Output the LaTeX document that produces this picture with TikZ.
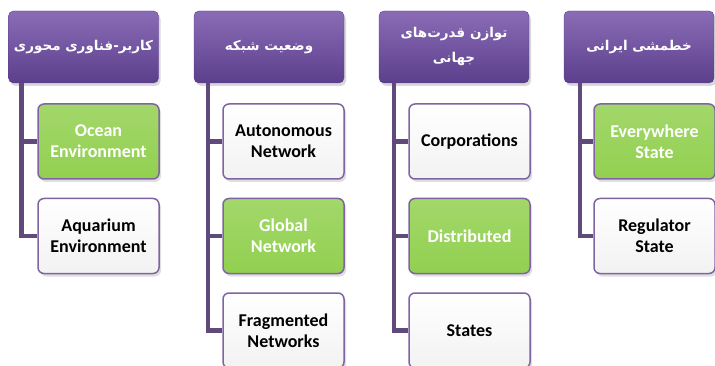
\documentclass[tikz,border=0pt]{standalone}
\usepackage{fontspec}
\setmainfont{Carlito}
\newfontfamily\arabicfont[Script=Arabic,BoldFont={DejaVu Sans Bold}]{DejaVu Sans}
\TeXXeTstate=1
\usepackage{tikz}
\usetikzlibrary{positioning,shadows}
\usepackage{xcolor}
\definecolor{hdtop}{HTML}{8A6CB6}
\definecolor{hdmid}{HTML}{6C4E9C}
\definecolor{hdbot}{HTML}{5C3F8C}
\definecolor{trunkcol}{HTML}{604A7B}
\definecolor{leafline}{HTML}{8064A2}
\definecolor{leafgreen}{HTML}{92D050}
\definecolor{leafgrey}{HTML}{F2F2F2}

\begin{document}
\begin{tikzpicture}[%
    x=1pt,y=-1pt,node distance=18pt,
    head/.style={%
      rectangle,rounded corners=5pt,minimum width=150pt,minimum height=72pt,
      top color=hdtop,middle color=hdmid,bottom color=hdbot,draw=hdbot,
      text=white,align=center,inner sep=2pt,
      font=\arabicfont\bfseries\fontsize{13.5}{25}\selectfont,
      drop shadow={opacity=0.3,shadow xshift=2pt,shadow yshift=-3pt}},
    leaf/.style={%
      rectangle,rounded corners=6pt,minimum width=121pt,minimum height=75pt,
      draw=leafline,line width=1.5pt,top color=white,bottom color=leafgrey,
      align=center,inner sep=2pt,font=\bfseries\fontsize{18}{21}\selectfont,
      drop shadow={opacity=0.25,shadow xshift=2pt,shadow yshift=-3pt}},
    greenleaf/.style={leaf,top color=leafgreen!85!white,bottom color=leafgreen,text=white},
    trunk/.style={draw=trunkcol,line width=4.5pt}
  ]
    \useasboundingbox (0,0) rectangle (715,366);

    % headers
    \node[head] (h1) at (83.5,47)  {\beginR کاربر-فناوری محوری\endR};
    \node[head] (h2) at (269,47)   {\beginR وضعیت شبکه\endR};
    \node[head] (h3) at (454,47)   {\beginR توازن قدرت‌های\endR\\\beginR جهانی\endR};
    \node[head] (h4) at (639,47)   {\beginR خطمشی ایرانی\endR};

    % first column
    \node[greenleaf] (c1a) at (98.5,141.5)      {Ocean\\Environment};
    \node[leaf]      (c1b) [below=of c1a]       {Aquarium\\Environment};

    % second column
    \node[leaf]      (c2a) at (283.5,141.5)     {Autonomous\\Network};
    \node[greenleaf] (c2b) [below=of c2a]       {Global\\Network};
    \node[leaf]      (c2c) [below=of c2b]       {Fragmented\\Networks};

    % third column
    \node[leaf]      (c3a) at (469.5,141.5)     {Corporations};
    \node[greenleaf] (c3b) [below=of c3a]       {Distributed};
    \node[leaf]      (c3c) [below=of c3b]       {States};

    % fourth column
    \node[greenleaf] (c4a) at (654.5,141.5)     {Everywhere\\State};
    \node[leaf]      (c4b) [below=of c4a]       {Regulator\\State};

    % trunks
    \coordinate (t1) at ([xshift=13pt]h1.south west);
    \coordinate (t2) at ([xshift=14pt]h2.south west);
    \coordinate (t3) at ([xshift=15pt]h3.south west);
    \coordinate (t4) at ([xshift=16pt]h4.south west);
    \path[trunk] (t1) |- (c1b.west)
                 (t1 |- c1a.west) -- (c1a.west);
    \path[trunk] (t2) |- (c2c.west)
                 (t2 |- c2a.west) -- (c2a.west)
                 (t2 |- c2b.west) -- (c2b.west);
    \path[trunk] (t3) |- (c3c.west)
                 (t3 |- c3a.west) -- (c3a.west)
                 (t3 |- c3b.west) -- (c3b.west);
    \path[trunk] (t4) |- (c4b.west)
                 (t4 |- c4a.west) -- (c4a.west);
\end{tikzpicture}
\end{document}
